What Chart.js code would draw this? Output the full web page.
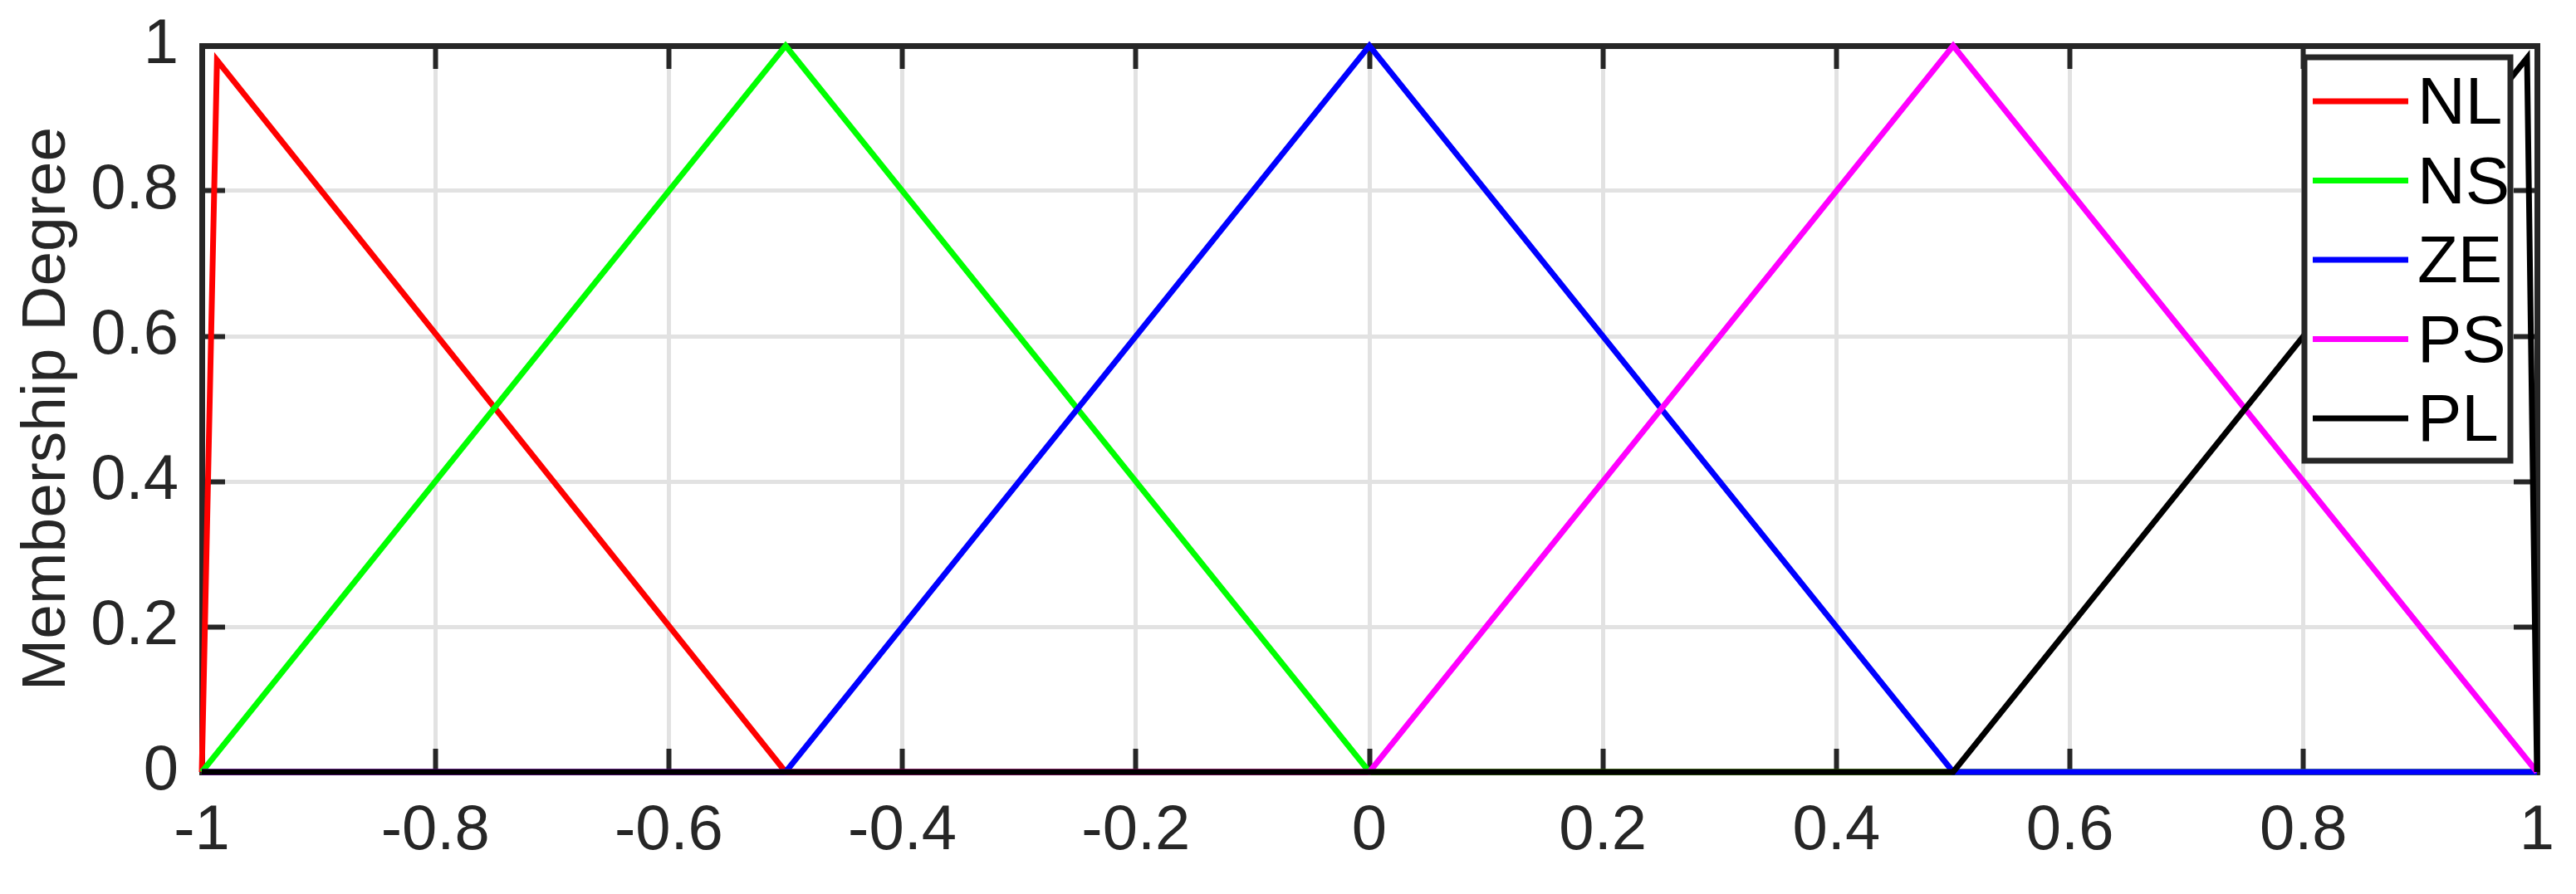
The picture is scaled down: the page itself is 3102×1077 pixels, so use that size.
<!DOCTYPE html>
<html>
<head>
<meta charset="utf-8">
<script src="https://cdn.jsdelivr.net/npm/chart.js@4.4.1/dist/chart.umd.min.js"></script>
<style>
  html, body { margin: 0; padding: 0; background: #ffffff; }
  #c { display: block; }
</style>
</head>
<body>
<canvas id="c" width="3102" height="1077"></canvas>
<script>
// ---- data ----
const seriesNames = ['NL', 'NS', 'ZE', 'PS', 'PL'];
const seriesColors = ['#ff0000', '#00ff00', '#0000ff', '#ff00ff', '#000000'];

const nlX = [-1, -0.987, -0.5, 1];
const nlY = [0, 0.98, 0, 0];
const nsX = [-1, -0.5, 0, 1];
const nsY = [0, 1, 0, 0];
const zeX = [-1, -0.5, 0, 0.5, 1];
const zeY = [0, 0, 1, 0, 0];
const psX = [-1, 0, 0.5, 1];
const psY = [0, 0, 1, 0];
const plX = [-1, 0.5, 0.9915, 1];
const plY = [0, 0, 0.983, 0];

const xTickValues = [-1, -0.8, -0.6, -0.4, -0.2, 0, 0.2, 0.4, 0.6, 0.8, 1];
const xTickLabels = ['-1', '-0.8', '-0.6', '-0.4', '-0.2', '0', '0.2', '0.4', '0.6', '0.8', '1'];
const yTickValues = [0, 0.2, 0.4, 0.6, 0.8, 1];
const yTickLabels = ['0', '0.2', '0.4', '0.6', '0.8', '1'];
const yTitle = 'Membership Degree';

// ---- build ----
const xs = [nlX, nsX, zeX, psX, plX];
const ys = [nlY, nsY, zeY, psY, plY];
const datasets = seriesNames.map((name, i) => ({
  label: name,
  data: xs[i].map((x, j) => ({ x: x, y: ys[i][j] })),
  borderColor: seriesColors[i],
  backgroundColor: seriesColors[i],
  borderWidth: 7,
  pointRadius: 0,
  pointHoverRadius: 0,
  tension: 0,
  fill: false,
  clip: false,
  order: seriesNames.length - 1 - i   // first series drawn first (underneath)
}));

const AX = '#262626';
const FONT = "'Liberation Sans', Arial, Helvetica, sans-serif";

function setTicks(values) {
  return function (scale) {
    scale.ticks = values.map(v => ({ value: v }));
  };
}
function labelFrom(values, labels) {
  return function (v) {
    const k = values.findIndex(t => Math.abs(t - v) < 1e-9);
    return k >= 0 ? labels[k] : '';
  };
}
function fitTo(dim, size) {
  return function (s) {
    s[dim] = size;
    s.paddingTop = 0; s.paddingBottom = 0; s.paddingLeft = 0; s.paddingRight = 0;
  };
}

const boxLegend = {
  id: 'boxLegend',
  afterDraw(chart) {
    const ctx = chart.ctx;
    const a = chart.chartArea;
    const left = a.right - 280, top = a.top + 14, w = 248, h = 486;
    ctx.save();
    ctx.fillStyle = '#ffffff';
    ctx.fillRect(left, top, w, h);
    ctx.lineWidth = 7;
    ctx.strokeStyle = AX;
    ctx.strokeRect(left, top, w, h);
    ctx.font = '80px ' + FONT;
    ctx.textBaseline = 'middle';
    ctx.textAlign = 'left';
    chart.data.datasets.forEach((ds, i) => {
      const y = top + 53 + i * 95.5;
      ctx.beginPath();
      ctx.strokeStyle = ds.borderColor;
      ctx.lineWidth = 7;
      ctx.moveTo(left + 10, y);
      ctx.lineTo(left + 125, y);
      ctx.stroke();
      ctx.fillStyle = '#000000';
      ctx.fillText(ds.label, left + 136, y + 5);
    });
    ctx.restore();
  }
};

new Chart(document.getElementById('c'), {
  type: 'line',
  data: { datasets: datasets },
  plugins: [boxLegend],
  options: {
    responsive: false,
    animation: false,
    events: [],
    layout: { padding: { left: 0, top: 55, right: 47, bottom: 0 } },
    plugins: { legend: { display: false }, tooltip: { enabled: false } },
    scales: {
      x: {
        type: 'linear', position: 'bottom', min: -1, max: 1,
        afterBuildTicks: setTicks(xTickValues),
        afterFit: fitTo('height', 147),
        grid: { color: '#e2e2e2', lineWidth: 5, drawTicks: true, tickLength: -28, tickColor: AX, tickWidth: 6 },
        border: { display: true, color: AX, width: 7 },
        ticks: { callback: labelFrom(xTickValues, xTickLabels), color: AX, padding: 54, maxRotation: 0, autoSkip: false,
                 font: { family: FONT, size: 76 } }
      },
      x2: {
        type: 'linear', position: 'top', min: -1, max: 1,
        afterBuildTicks: setTicks(xTickValues),
        afterFit: fitTo('height', 0),
        grid: { drawOnChartArea: false, drawTicks: true, tickLength: -28, tickColor: AX, tickWidth: 6 },
        border: { display: true, color: AX, width: 7 },
        ticks: { display: false }
      },
      y: {
        type: 'linear', position: 'left', min: 0, max: 1,
        afterBuildTicks: setTicks(yTickValues),
        afterFit: fitTo('width', 243),
        grid: { color: '#e2e2e2', lineWidth: 5, drawTicks: true, tickLength: -28, tickColor: AX, tickWidth: 6 },
        border: { display: true, color: AX, width: 7 },
        ticks: { callback: labelFrom(yTickValues, yTickLabels), color: AX, padding: 56, autoSkip: false,
                 font: { family: FONT, size: 76 } },
        title: { display: true, text: yTitle, color: AX, padding: { top: 12, bottom: 0 },
                 font: { family: FONT, size: 75 } }
      },
      y2: {
        type: 'linear', position: 'right', min: 0, max: 1,
        afterBuildTicks: setTicks(yTickValues),
        afterFit: fitTo('width', 0),
        grid: { drawOnChartArea: false, drawTicks: true, tickLength: -28, tickColor: AX, tickWidth: 6 },
        border: { display: true, color: AX, width: 7 },
        ticks: { display: false }
      }
    }
  }
});
</script>
</body>
</html>
